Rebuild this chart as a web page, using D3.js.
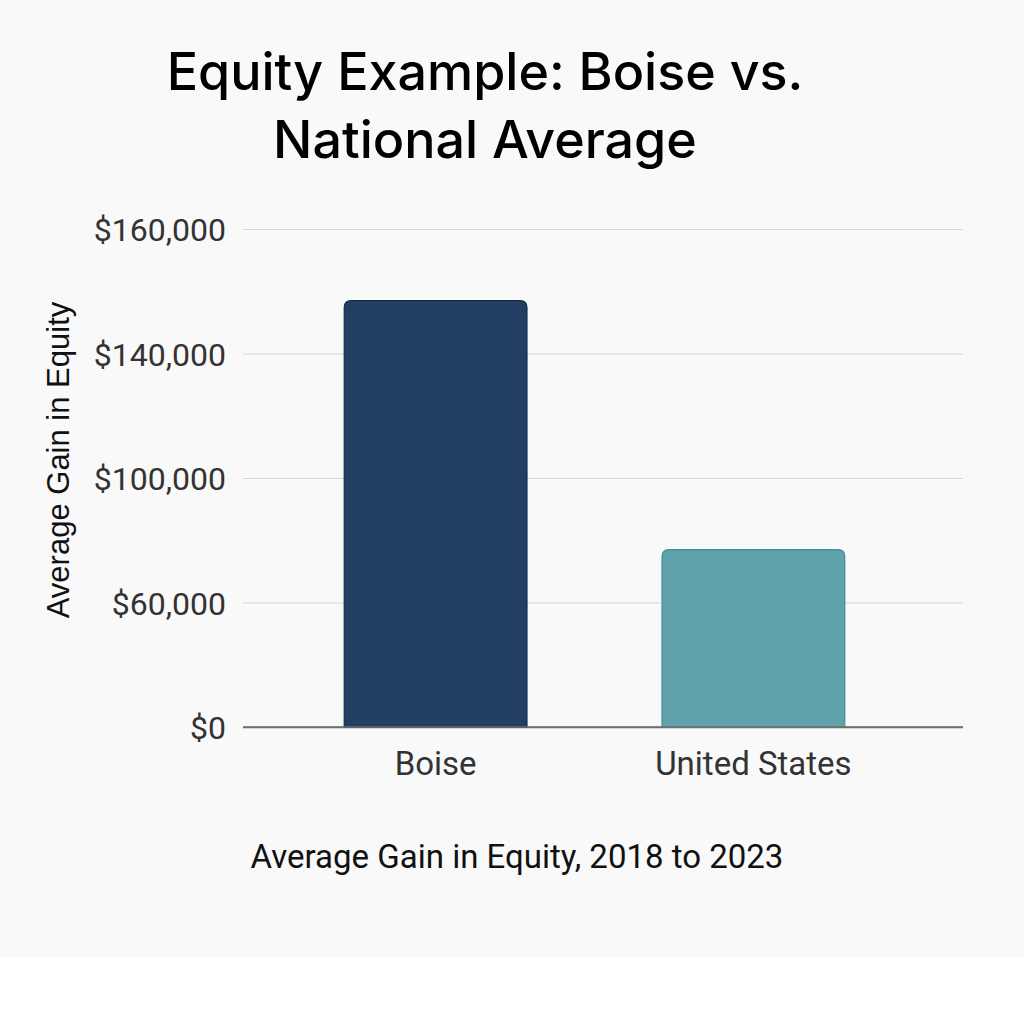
<!DOCTYPE html>
<html>
<head>
<meta charset="utf-8">
<script src="https://cdn.jsdelivr.net/npm/d3@7"></script>
<style>
  html, body { margin: 0; padding: 0; background: #ffffff; }
  svg { display: block; }
</style>
</head>
<body>
<svg id="chart" width="1024" height="1024"></svg>
<script>
// Average equity gain, 2018 to 2023
const categories = ["Boise", "United States"];
const gains = [148500, 77000];
const barFills = ["#223f63", "#5fa2aa"];
const barStrokes = ["#13294a", "#3b8f99"];

// Axis ticks as printed (evenly spaced on the axis)
const tickValues = [0, 60000, 100000, 140000, 160000];

const titleLines = ["Equity Example: Boise vs.", "National Average"];
const yAxisTitle = "Average Gain in Equity";
const xAxisTitle = "Average Gain in Equity, 2018 to 2023";

const svg = d3.select("#chart");

// page background
svg.append("rect").attr("x", 0).attr("y", 0).attr("width", 1024).attr("height", 957)
  .attr("fill", "#f9f9f9");

const plot = { left: 243, right: 963, top: 229, bottom: 727 };

// piecewise scale so the printed ticks sit on evenly spaced gridlines
const y = d3.scaleLinear()
  .domain(tickValues)
  .range(tickValues.map((d, i) => plot.bottom - i * (plot.bottom - plot.top) / (tickValues.length - 1)));

const x = d3.scaleBand()
  .domain(categories)
  .range([233, 956])
  .paddingInner(0.425)
  .paddingOuter(0.35);

const fmt = d => "$" + d3.format(",")(d);

// gridlines + tick labels
const yAxis = d3.axisLeft(y)
  .tickValues(tickValues)
  .tickFormat(fmt)
  .tickSize(-(plot.right - plot.left))
  .tickPadding(17);

const gy = svg.append("g")
  .attr("transform", `translate(${plot.left},0)`)
  .call(yAxis);
gy.select(".domain").remove();
gy.selectAll(".tick line")
  .attr("stroke", d => d === 0 ? "#6e6e6e" : "#d6d6d6")
  .attr("stroke-width", d => d === 0 ? 1.3 : 1);
gy.selectAll(".tick text")
  .attr("font-family", "Roboto, 'Noto Sans', sans-serif")
  .attr("font-size", 32)
  .attr("fill", "#333333")
  .attr("dy", "0.36em");

// bars with rounded top corners
const r = 7;
function barPath(x0, w, yTop, yBase) {
  return `M${x0},${yBase}V${yTop + r}Q${x0},${yTop} ${x0 + r},${yTop}` +
         `H${x0 + w - r}Q${x0 + w},${yTop} ${x0 + w},${yTop + r}V${yBase}Z`;
}

svg.append("g").selectAll("path")
  .data(categories)
  .join("path")
  .attr("d", (c, i) => barPath(x(c), x.bandwidth(), y(gains[i]), y(0)))
  .attr("fill", (c, i) => barFills[i])
  .attr("stroke", (c, i) => barStrokes[i])
  .attr("stroke-width", 1.2);

// redraw the baseline on top of the bars
svg.append("line")
  .attr("x1", plot.left).attr("x2", plot.right)
  .attr("y1", y(0)).attr("y2", y(0))
  .attr("stroke", "#6e6e6e").attr("stroke-width", 1.3);

// category labels
const xAxis = d3.axisBottom(x).tickSize(0).tickPadding(25);
const gx = svg.append("g")
  .attr("transform", `translate(0,${plot.bottom})`)
  .call(xAxis);
gx.select(".domain").remove();
gx.selectAll(".tick text")
  .attr("font-family", "Roboto, 'Noto Sans', sans-serif")
  .attr("font-size", 33)
  .attr("fill", "#333333");

// title
svg.append("g").selectAll("text")
  .data(titleLines)
  .join("text")
  .attr("x", 485)
  .attr("y", (d, i) => 90 + i * 68)
  .attr("text-anchor", "middle")
  .attr("font-family", "Inter, 'Liberation Sans', sans-serif")
  .attr("font-size", 52)
  .attr("font-weight", 500)
  .attr("fill", "#000000")
  .text(d => d);

// y-axis title
svg.append("text")
  .attr("transform", "translate(69,460) rotate(-90)")
  .attr("text-anchor", "middle")
  .attr("font-family", "'Liberation Sans', Arial, sans-serif")
  .attr("font-size", 31)
  .attr("fill", "#111111")
  .text(yAxisTitle);

// x-axis title
svg.append("text")
  .attr("x", 517)
  .attr("y", 868)
  .attr("text-anchor", "middle")
  .attr("font-family", "Roboto, 'Noto Sans', sans-serif")
  .attr("font-size", 33)
  .attr("fill", "#111111")
  .text(xAxisTitle);
</script>
</body>
</html>
